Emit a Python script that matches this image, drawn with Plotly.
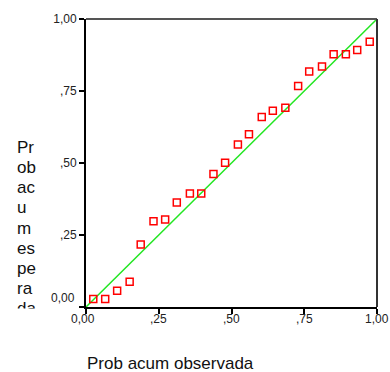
import plotly.graph_objects as go

# Observed cumulative probability (x) and expected cumulative probability (y)
prob_obs = [0.025, 0.066, 0.107, 0.150, 0.188, 0.232, 0.272, 0.312, 0.357, 0.396,
            0.438, 0.478, 0.522, 0.560, 0.604, 0.642, 0.685, 0.729, 0.767, 0.811,
            0.851, 0.893, 0.932, 0.975]
prob_esp = [0.028, 0.028, 0.056, 0.088, 0.217, 0.298, 0.304, 0.363, 0.394, 0.394,
            0.462, 0.501, 0.564, 0.600, 0.660, 0.681, 0.692, 0.767, 0.818, 0.835,
            0.878, 0.878, 0.892, 0.921]
ref_line = [0.0, 1.0]
tick_vals = [0, 0.25, 0.5, 0.75, 1.0]
tick_text = ["0,00", ",25", ",50", ",75", "1,00"]
y_title_parts = ["Pr", "ob", "ac", "u", "m", "es", "pe", "ra", "da"]
x_title = "Prob acum observada"

W, H = 390, 372
L, R, T, B = 86, 13, 15, 65
PW, PH = W - L - R, H - T - B

def px_x(p):
    return (p - L) / PW

def px_y(p):
    return (H - B - p) / PH

fig = go.Figure()
fig.add_trace(go.Scatter(x=ref_line, y=ref_line, mode="lines",
                         line=dict(color="#22e622", width=1.5),
                         hoverinfo="skip", showlegend=False, cliponaxis=False))
fig.add_trace(go.Scatter(x=prob_obs, y=prob_esp, mode="markers",
                         marker=dict(symbol="square-open", size=7,
                                     color="#ff0000", line=dict(width=1.5, color="#ff0000")),
                         showlegend=False))

font = "Arial, Liberation Sans, sans-serif"
tickfont = dict(family=font, size=12, color="#222")
axis_common = dict(range=[0, 1], tickvals=tick_vals,
                   showgrid=False, zeroline=False, showline=True,
                   linecolor="black", linewidth=2, ticks="outside", ticklen=5,
                   tickwidth=1.5, tickcolor="black", tickfont=tickfont)
fig.update_xaxes(ticktext=[""] * len(tick_vals), **axis_common)
fig.update_yaxes(ticktext=[""] + tick_text[1:], **axis_common)

annotations = []
centers = [145, 165.5, 186, 206.5, 227, 247.5, 268, 288.5, 309]
for part, cy in zip(y_title_parts, centers):
    annotations.append(dict(text=part, xref="paper", yref="paper",
                            x=px_x(15), y=px_y(cy), xanchor="left", yanchor="middle",
                            showarrow=False, font=dict(family=font, size=17, color="#111")))
# clip bottom of the wrapped title like the reference
annotations.append(dict(text=" ", xref="paper", yref="paper", x=px_x(8), y=px_y(308.5),
                        xanchor="left", yanchor="top", width=44, height=20,
                        bgcolor="white", borderpad=0, showarrow=False))
annotations.append(dict(text=x_title, xref="paper", yref="paper",
                        x=px_x(85), y=px_y(364), xanchor="left", yanchor="middle",
                        showarrow=False, font=dict(family=font, size=17, color="#111")))
# y zero label (raised in the reference)
annotations.append(dict(text=tick_text[0], xref="paper", yref="paper",
                        x=px_x(76), y=px_y(297.7), xanchor="right", yanchor="middle",
                        showarrow=False, font=tickfont, borderpad=0))
# x tick labels
for v, t in zip(tick_vals, tick_text):
    annotations.append(dict(text=t, xref="x", yref="paper", x=v, y=px_y(319),
                            xanchor="center", yanchor="middle",
                            xshift=-3.2 if v == 0 else 0,
                            showarrow=False, font=tickfont, borderpad=0))

shapes = [
    dict(type="line", xref="paper", yref="paper", x0=0, x1=1, y0=1, y1=1,
         line=dict(color="#555", width=2)),
    dict(type="line", xref="paper", yref="paper", x0=1, x1=1, y0=0, y1=1,
         line=dict(color="#333", width=2)),
]

fig.update_layout(width=W, height=H, autosize=False,
                  margin=dict(l=L, r=R, t=T, b=B),
                  plot_bgcolor="white", paper_bgcolor="white",
                  annotations=annotations, shapes=shapes,
                  font=dict(family=font))
fig.write_html("out.html", config={"displayModeBar": False},
               post_script="document.body.style.margin='0';document.body.style.overflow='hidden';")
